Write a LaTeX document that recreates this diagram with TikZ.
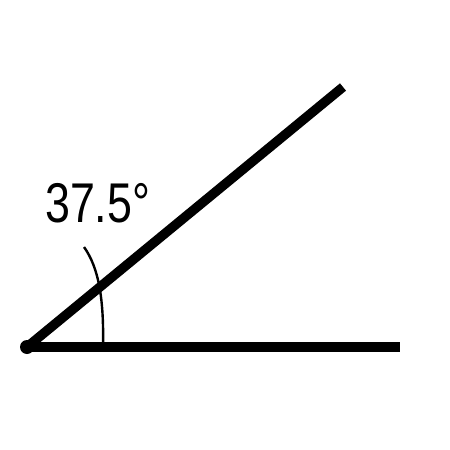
\documentclass[tikz,border=0pt]{standalone}
\usepackage{fontspec}
\setmainfont{Liberation Sans}
\begin{document}
\begin{tikzpicture}[x=1pt,y=-1pt]
                \useasboundingbox (0,0) rectangle (450,450);
                %vertice e lati
                \coordinate (O) at (27,347);
                \coordinate (A) at (400,347);
                \coordinate (B) at (343,87);
                \draw[line width=9.5pt] (O) -- (A);
                \draw[line width=9.5pt] (O) -- (B);
                \fill[black] (O) circle (7pt);
                %arco dell'angolo
                \coordinate (P) at (103,347);
                \coordinate (Q) at (84,247);
                \draw[line width=2.4pt] (P) .. controls (104,300) and (99,268) .. (Q);
                %etichetta
                \node[font=\fontsize{56}{56}\selectfont,xscale=0.8,inner sep=0pt,anchor=base west] (L) at (45,222) {37.5\textdegree};
            \end{tikzpicture}
\end{document}
